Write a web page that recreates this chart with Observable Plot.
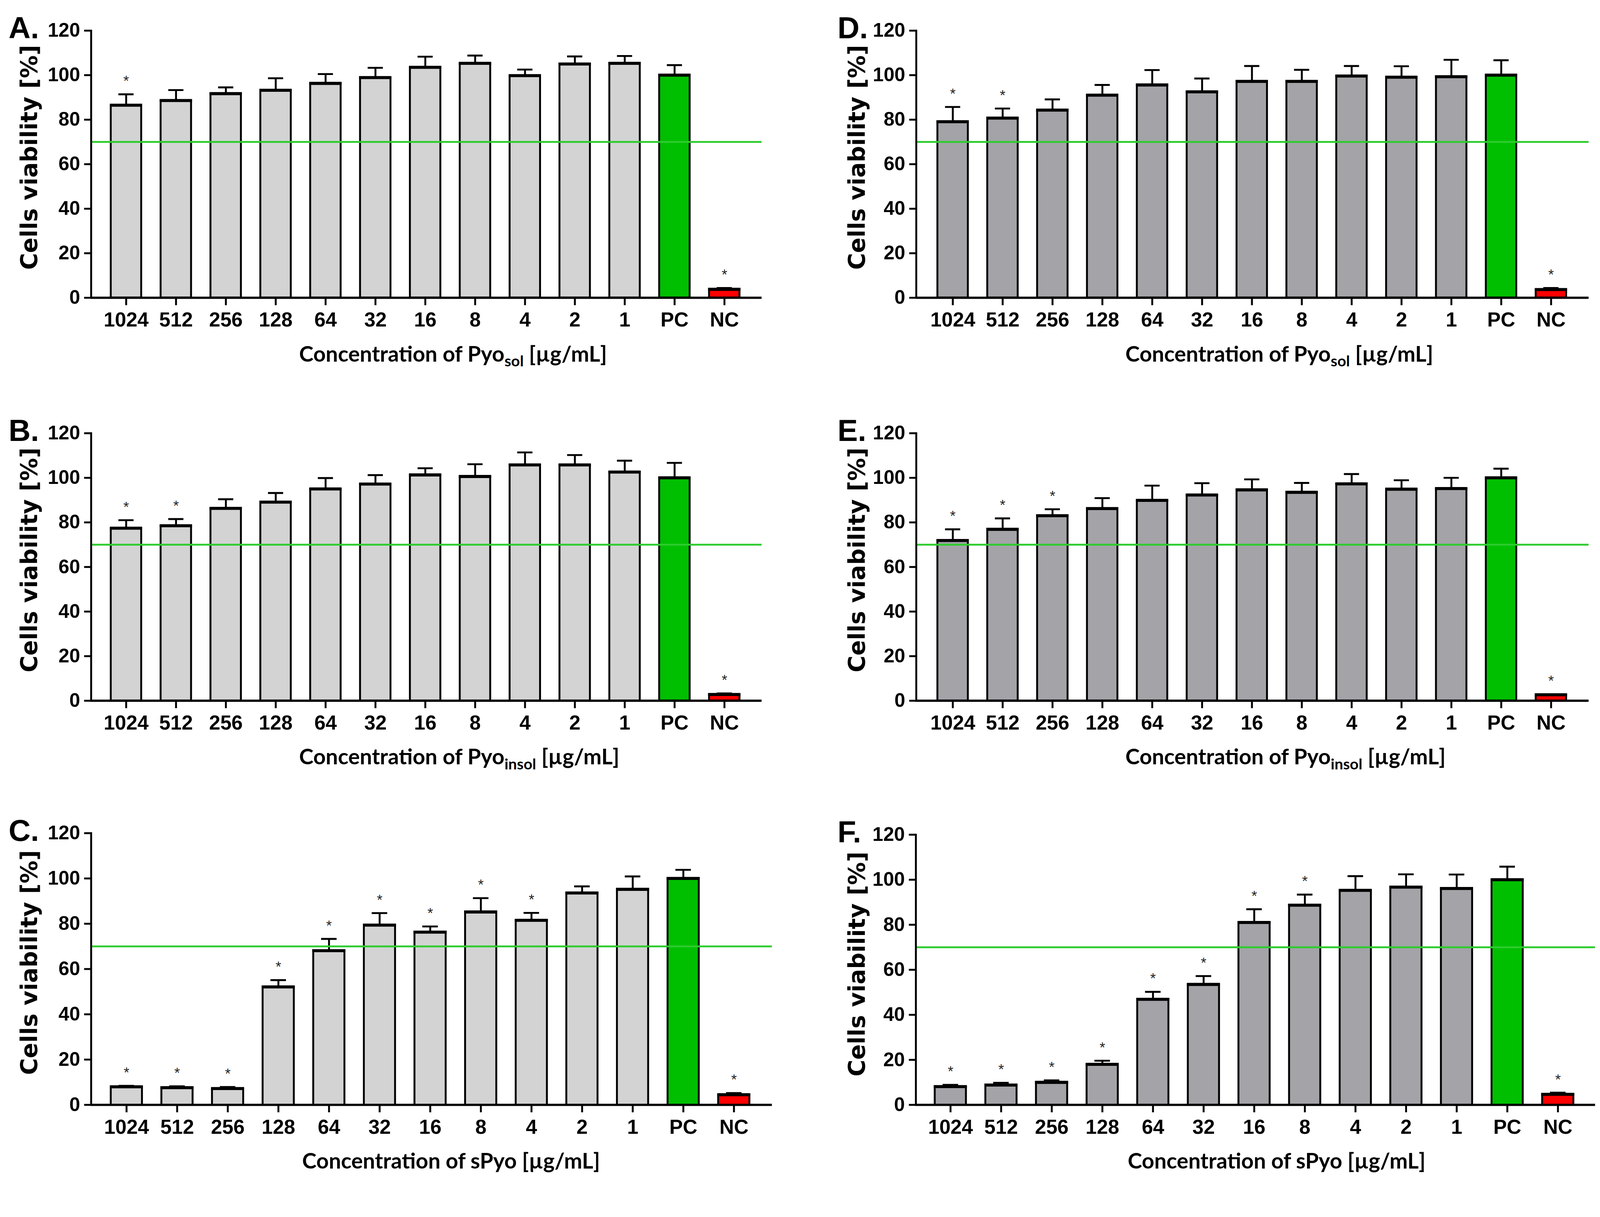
<!DOCTYPE html>
<html><head><meta charset="utf-8">
<script src="https://cdn.jsdelivr.net/npm/d3@7"></script>
<script src="https://cdn.jsdelivr.net/npm/@observablehq/plot@0.6"></script>
<style>
html,body{margin:0;padding:0;background:#fff;overflow:hidden;}
#fig{position:relative;width:4204px;height:3116px;background:#fff;overflow:hidden;transform-origin:0 0;}
#fig svg{position:absolute;overflow:visible;max-width:none;}
</style></head><body><div id="fig"></div><script>
// ---------- data ----------
const categories = ["1024","512","256","128","64","32","16","8","4","2","1","PC","NC"];
const yTicks = [0,20,40,60,80,100,120];
const yLabel = "Cells viability [%]";

const meanA = [86.5, 88.6, 91.7, 93.2, 96.3, 98.9, 103.5, 105.3, 99.8, 105.0, 105.3, 100.0, 3.8];
const sdA   = [4.9, 4.7, 2.8, 5.4, 4.2, 4.4, 4.8, 3.5, 2.7, 3.4, 3.3, 4.5, 0.6];
const sigA  = ["1024","NC"];

const meanB = [77.4, 78.5, 86.3, 89.1, 95.0, 97.2, 101.3, 100.6, 105.8, 105.8, 102.6, 100.0, 2.8];
const sdB   = [3.6, 3.0, 4.1, 4.1, 4.9, 4.0, 3.0, 5.5, 5.6, 4.4, 5.1, 6.7, 0.5];
const sigB  = ["1024","512","NC"];

const meanC = [8.0, 7.6, 7.2, 52.1, 68.1, 79.4, 76.3, 85.2, 81.5, 93.6, 95.2, 100.0, 4.5];
const sdC   = [0.4, 0.6, 0.7, 3.0, 5.2, 5.3, 2.5, 6.1, 3.3, 2.9, 5.7, 3.8, 0.7];
const sigC  = ["1024","512","256","128","64","32","16","8","4","NC"];

const meanD = [79.1, 80.7, 84.3, 91.0, 95.6, 92.5, 97.2, 97.2, 99.6, 99.1, 99.3, 100.0, 3.7];
const sdD   = [6.6, 4.3, 4.8, 4.6, 6.7, 6.0, 6.9, 5.2, 4.5, 4.9, 7.6, 6.7, 0.7];
const sigD  = ["1024","512","NC"];

const meanE = [71.9, 76.9, 83.0, 86.2, 89.9, 92.3, 94.6, 93.5, 97.3, 94.9, 95.2, 100.0, 2.7];
const sdE   = [5.0, 4.9, 2.9, 4.7, 6.6, 5.3, 4.7, 4.2, 4.4, 4.0, 4.8, 4.1, 0.2];
const sigE  = ["1024","512","256","NC"];

const meanF = [8.1, 8.8, 10.0, 18.0, 46.9, 53.5, 81.0, 88.7, 95.3, 96.7, 96.1, 100.0, 4.7];
const sdF   = [0.8, 1.0, 0.9, 1.6, 3.3, 3.7, 5.9, 4.7, 6.3, 5.7, 6.2, 5.8, 0.7];
const sigF  = ["1024","512","256","128","64","32","16","8","NC"];

const threshold = 70;

// ---------- styles ----------
const lightGray = "#d3d3d3", darkGray = "#a3a3a8", pcGreen = "#00bf00", ncRed = "#ff0000", lineGreen = "#2ecc2e";
const FONT = "'Liberation Sans', Arial, sans-serif";

const panels = [
  {letter:"A.", mean:meanA, sd:sdA, sig:sigA, gray:lightGray, base:"Pyo", sub:"sol",   L:0,    T:0,    W:2100, H:1040, axisX:239,  firstC:327,  step:131.67, endX:2001, y120:80,   y0:782,  pi:0.39, letterX:22,   ylabX:97,   ylabOff:333, titleX:786},
  {letter:"B.", mean:meanB, sd:sdB, sig:sigB, gray:lightGray, base:"Pyo", sub:"insol", L:0,    T:1040, W:2100, H:1050, axisX:239,  firstC:327,  step:131.67, endX:2001, y120:1138, y0:1841, pi:0.39, letterX:22,   ylabX:97,   ylabOff:333, titleX:786},
  {letter:"C.", mean:meanC, sd:sdC, sig:sigC, gray:lightGray, base:"sPyo", sub:"",     L:0,    T:2090, W:2100, H:1026, axisX:239,  firstC:328,  step:133.67, endX:2028, y120:2189, y0:2903, pi:0.383, letterX:22,  ylabX:97,   ylabOff:340, titleX:794},
  {letter:"D.", mean:meanD, sd:sdD, sig:sigD, gray:darkGray,  base:"Pyo", sub:"sol",   L:2100, T:0,    W:2104, H:1040, axisX:2407, firstC:2499, step:131.6,  endX:4174, y120:80,   y0:782,  pi:0.39, letterX:2200, ylabX:2272, ylabOff:333, titleX:2957},
  {letter:"E.", mean:meanE, sd:sdE, sig:sigE, gray:darkGray,  base:"Pyo", sub:"insol", L:2100, T:1040, W:2104, H:1050, axisX:2407, firstC:2499, step:131.6,  endX:4174, y120:1138, y0:1841, pi:0.39, letterX:2200, ylabX:2272, ylabOff:333, titleX:2957},
  {letter:"F.", mean:meanF, sd:sdF, sig:sigF, gray:darkGray,  base:"sPyo", sub:"",     L:2100, T:2090, W:2104, H:1026, axisX:2406, firstC:2494, step:133.5,  endX:4191, y120:2193, y0:2903, pi:0.383, letterX:2200, ylabX:2272, ylabOff:340, titleX:2963}
];

const fig = document.getElementById("fig");
// fit the whole figure into the viewport if it is narrower than the design size
const fit = Math.min(1, (window.innerWidth || 4204) / 4204, (window.innerHeight || 3116) / 3116);
if (fit < 1) fig.style.transform = `scale(${fit})`;

for (const p of panels) {
  const data = categories.map((c, i) => ({
    cat: c, mean: p.mean[i], top: p.mean[i] + p.sd[i],
    fill: c === "PC" ? pcGreen : c === "NC" ? ncRed : p.gray,
    sig: p.sig.includes(c)
  }));
  const n = categories.length;
  const range = p.endX - p.axisX;
  const po = (range / p.step - (n - p.pi)) / 2;
  const leftover = 2 * po * p.step;
  const offset = p.firstC - p.axisX - p.step * (1 - p.pi) / 2;
  const align = Math.max(0, Math.min(1, offset / leftover));
  const bw = p.step * (1 - p.pi);
  const frameMidY = (p.y120 + p.y0) / 2;

  const svg = Plot.plot({
    width: p.W, height: p.H,
    marginLeft: p.axisX - p.L, marginRight: p.L + p.W - p.endX,
    marginTop: p.y120 - p.T, marginBottom: p.T + p.H - p.y0,
    style: {background: "transparent", fontFamily: FONT, color: "#000", overflow: "visible", maxWidth: "none"},
    x: {domain: categories, paddingInner: p.pi, paddingOuter: po, align, label: null},
    y: {domain: [0, 120], label: null},
    color: {type: "identity"},
    marks: [
      Plot.barY(data, {x: "cat", y: "mean", fill: "fill", stroke: "#000", strokeWidth: 5}),
      Plot.ruleX(data, {x: "cat", y1: "mean", y2: "top", stroke: "#000", strokeWidth: 5}),
      Plot.tickY(data, {x: "cat", y: "top", stroke: "#000", strokeWidth: 5, inset: bw * 0.25}),
      Plot.tickY(data, {x: "cat", y: "mean", stroke: "#000", strokeWidth: 8, insetLeft: -2.5, insetRight: -2.5}),
      Plot.ruleY([threshold], {stroke: lineGreen, strokeWidth: 5}),
      Plot.text(data.filter(d => d.sig), {x: "cat", y: "top", text: () => "*", dy: -34, fontSize: 38, fill: "#222"}),
      Plot.ruleY([0], {stroke: "#000", strokeWidth: 6}),
      Plot.frame({anchor: "left", stroke: "#000", strokeWidth: 5}),
      Plot.axisY({ticks: yTicks, tickSize: 18, tickPadding: 11, fontSize: 51, fontWeight: "bold", strokeWidth: 5, label: null, tickFormat: d => d}),
      Plot.axisX({tickSize: 20, tickPadding: 18, fontSize: 53, fontWeight: "bold", strokeWidth: 5, label: null}),
      Plot.text([p.letter], {frameAnchor: "top-left", dx: p.letterX - p.axisX, dy: 20, lineAnchor: "bottom", textAnchor: "start", fontSize: 80, fontWeight: "bold"}),
      Plot.text([yLabel], {frameAnchor: "left", rotate: -90, dx: p.ylabX - p.axisX, dy: (p.y120 + p.ylabOff) - frameMidY, textAnchor: "middle", lineAnchor: "bottom", fontSize: 60, fontWeight: "bold", fontFamily: "'DejaVu Sans', Verdana, sans-serif"})
    ]
  });
  svg.style.left = p.L + "px";
  svg.style.top = p.T + "px";

  // x-axis title with subscript
  const t = d3.select(svg).append("text")
    .attr("x", p.titleX - p.L).attr("y", p.y0 + 168 - p.T)
    .attr("text-anchor", "start")
    .style("font-family", "Lato, 'Open Sans', sans-serif")
    .style("font-weight", "bold").style("font-size", "57px").attr("fill", "#000");
  t.append("tspan").text("Concentration of " + p.base);
  if (p.sub) {
    t.append("tspan").attr("dy", 13).style("font-size", "40px").text(p.sub);
    t.append("tspan").attr("dy", -13).text(" [µg/mL]");
  } else {
    t.append("tspan").text(" [µg/mL]");
  }
  fig.appendChild(svg);
}
</script></body></html>
